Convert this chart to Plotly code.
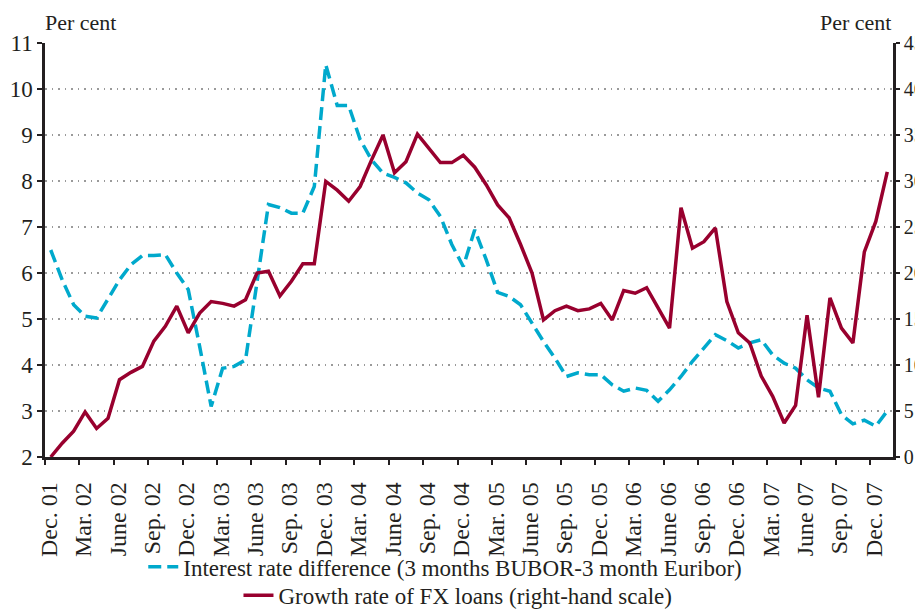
import plotly.graph_objects as go

# Month index 0 = Dec. 2001 ... 73 = Jan. 2008
months = list(range(74))

interest_diff = [
    6.50, 5.85, 5.31, 5.06, 5.02, 5.42, 5.85, 6.18, 6.38, 6.38,
    6.40, 6.00, 5.64, 4.40, 3.10, 3.93, 3.97, 4.11, 5.80, 7.49,
    7.42, 7.30, 7.30, 7.88, 10.53, 9.64, 9.64, 8.90, 8.46, 8.17,
    8.08, 7.96, 7.74, 7.59, 7.23, 6.62, 6.14, 6.94, 6.29, 5.58,
    5.49, 5.31, 4.91, 4.51, 4.15, 3.75, 3.83, 3.79, 3.79, 3.57,
    3.43, 3.50, 3.45, 3.21, 3.46, 3.75, 4.08, 4.37, 4.66, 4.53,
    4.37, 4.48, 4.55, 4.22, 4.04, 3.93, 3.68, 3.50, 3.43, 2.92,
    2.72, 2.80, 2.67, 3.00,
]

fx_growth = [
    0.0, 1.5, 2.8, 4.9, 3.1, 4.2, 8.4, 9.2, 9.85, 12.6,
    14.2, 16.4, 13.5, 15.65, 16.9, 16.7, 16.4, 17.1, 20.0, 20.2,
    17.5, 19.1, 21.0, 21.0, 29.96, 29.0, 27.8, 29.4, 32.3, 35.0,
    30.9, 32.1, 35.1, 33.6, 32.0, 32.0, 32.8, 31.5, 29.6, 27.4,
    26.0, 23.1, 20.0, 14.9, 15.9, 16.4, 15.9, 16.1, 16.7, 14.9,
    18.1, 17.8, 18.4, 16.2, 14.0, 27.1, 22.7, 23.4, 24.9, 16.9,
    13.5, 12.4, 8.8, 6.6, 3.7, 5.6, 15.4, 6.5, 17.3, 14.0,
    12.4, 22.3, 25.6, 31.0,
]

tick_labels = [
    "Dec. 01", "Mar. 02", "June 02", "Sep. 02", "Dec. 02", "Mar. 03", "June 03",
    "Sep. 03", "Dec. 03", "Mar. 04", "June 04", "Sep. 04", "Dec. 04", "Mar. 05",
    "June 05", "Sep. 05", "Dec. 05", "Mar. 06", "June 06", "Sep. 06", "Dec. 06",
    "Mar. 07", "June 07", "Sep. 07", "Dec. 07",
]
tick_positions = [3 * k - 0.5 for k in range(len(tick_labels))]

name_blue = "Interest rate difference (3 months BUBOR-3 month Euribor)"
name_red = "Growth rate of FX loans (right-hand scale)"

TXT = "#231f20"
FONT = "'Liberation Serif', 'DejaVu Serif', serif"
BLUE = "#00a9cc"
RED = "#98002e"

fig = go.Figure()
fig.add_trace(go.Scatter(
    x=months, y=interest_diff, name=name_blue, mode="lines",
    line=dict(color=BLUE, width=3.5, dash="13px,6px"),
    yaxis="y", legend="legend",
))
fig.add_trace(go.Scatter(
    x=months, y=fx_growth, name=name_red, mode="lines",
    line=dict(color=RED, width=3.5),
    yaxis="y2", legend="legend2",
))

axis_common = dict(
    showline=True, linecolor=TXT, linewidth=2.5,
    ticks="outside", tickcolor=TXT, tickwidth=2,
    zeroline=False,
)

fig.update_layout(
    width=915, height=602,
    margin=dict(l=37, r=30, t=35, b=153, autoexpand=False),
    paper_bgcolor="white", plot_bgcolor="white",
    font=dict(family=FONT, color=TXT, size=21),
    xaxis=dict(
        range=[-0.5, 73.5],
        tickmode="array", tickvals=tick_positions, ticktext=tick_labels,
        tickangle=-90, ticklabelshift=4, ticklabelstandoff=8, showgrid=False,
        ticklen=5,
        tickfont=dict(family=FONT, size=24, color=TXT),
        **axis_common,
    ),
    yaxis=dict(
        range=[2, 11], dtick=1, tick0=2, ticklen=5,
        showgrid=True, gridcolor="#9a9a9a", gridwidth=1.5, griddash="1.5px,5px",
        tickfont=dict(family=FONT, size=23, color=TXT),
        **axis_common,
    ),
    yaxis2=dict(
        range=[0, 45], dtick=5, tick0=0, ticklen=4,
        overlaying="y", side="right", showgrid=False,
        tickfont=dict(family=FONT, size=20, color=TXT),
        **axis_common,
    ),
    legend=dict(
        orientation="h", x=0.472, xanchor="center", y=-0.265, yanchor="middle",
        bgcolor="rgba(0,0,0,0)", font=dict(family=FONT, size=23, color=TXT),
    ),
    legend2=dict(
        orientation="h", x=0.487, xanchor="center", y=-0.334, yanchor="middle",
        bgcolor="rgba(0,0,0,0)", font=dict(family=FONT, size=23, color=TXT),
    ),
    showlegend=True,
    annotations=[
        dict(text="Per cent", xref="paper", yref="paper", x=0, y=1,
             xanchor="left", yanchor="bottom", xshift=-2, yshift=6,
             showarrow=False, font=dict(family=FONT, size=22, color=TXT)),
        dict(text="Per cent", xref="paper", yref="paper", x=1, y=1,
             xanchor="right", yanchor="bottom", yshift=6,
             showarrow=False, font=dict(family=FONT, size=22, color=TXT)),
    ],
)

fig.write_html("out.html")
